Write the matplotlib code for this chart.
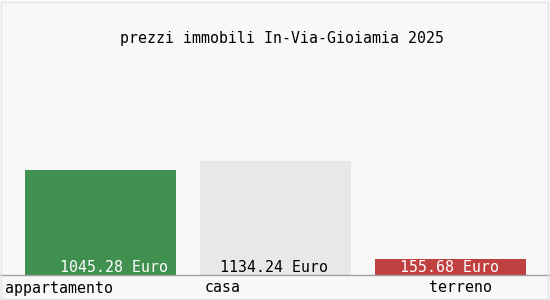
import matplotlib
matplotlib.use("Agg")
import matplotlib.pyplot as plt
from matplotlib.transforms import offset_copy
from matplotlib.patches import Rectangle

title = "prezzi immobili In-Via-Gioiamia 2025"
categories = ["appartamento", "casa", "terreno"]
values = [1045.28, 1134.24, 155.68]
value_labels = ["1045.28 Euro", "1134.24 Euro", "155.68 Euro"]

# styling / layout
bar_colors = ["#409150", "#e8e8e8", "#c04040"]
text_colors = ["white", "black", "white"]
value_dx = [13, -2, -1.5]       # px offsets of value labels
cat_dx = [-42, -53, 10.5]       # px offsets of category labels
bg = "#f8f8f8"
font = "DejaVu Sans Mono"
fs = 10.7

W, H, dpi = 550, 300, 100
fig = plt.figure(figsize=(W / dpi, H / dpi), dpi=dpi, facecolor=bg)
base_px = 274.5
top_px = 60
ax = fig.add_axes([0, (H - base_px) / H, 1, (base_px - top_px) / H])
ax.set_facecolor(bg)
spacing = 175.0
ax.set_xlim(-100.5 / spacing, (W - 100.5) / spacing)
ax.set_ylim(0, (base_px - top_px) / 0.1)
x = list(range(len(categories)))
ax.bar(x, values, width=151 / spacing, color=bar_colors, zorder=2)
for s in ["top", "left", "right"]:
    ax.spines[s].set_visible(False)
ax.spines["bottom"].set_color("#a0a0a0")
ax.spines["bottom"].set_linewidth(1)
ax.set_xticks([])
ax.set_yticks([])

for i, (lab, tc) in enumerate(zip(value_labels, text_colors)):
    tr = offset_copy(ax.transData, fig=fig, x=value_dx[i], y=6.5, units="dots")
    ax.text(i, 0, lab, transform=tr, ha="center", va="center", color=tc,
            family=font, fontsize=fs, zorder=3)
for i, cat in enumerate(categories):
    tr = offset_copy(ax.transData, fig=fig, x=cat_dx[i], y=-13.5, units="dots")
    ax.text(i, 0, cat, transform=tr, ha="center", va="center", color="black",
            family=font, fontsize=fs, clip_on=False)

fig.text((275 + 6.5) / W, 1 - 38 / H, title, ha="center", va="center",
         family=font, fontsize=fs, color="black")
fig.patches.append(Rectangle((1 / W, 1 / H), (W - 3) / W, (H - 3) / H,
                             transform=fig.transFigure, fill=False,
                             edgecolor="#e4e4e4", linewidth=1))
fig.savefig("out.png", dpi=dpi, facecolor=bg)
